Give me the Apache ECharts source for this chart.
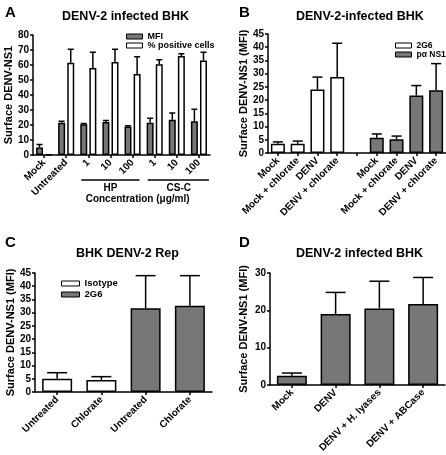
<!DOCTYPE html>
<html><head><meta charset="utf-8">
<script src="https://cdn.jsdelivr.net/npm/echarts@6/dist/echarts.min.js"></script>
<style>html,body{margin:0;padding:0;background:#fff}#c{width:446px;height:455px}</style>
</head><body><div id="c"></div>
<script>
const FONT = '"Liberation Sans", Arial, sans-serif';
const GRAY = '#777777';

// ---- Panel A ----
const catsA = ['Mock', 'Untreated', '1', '10', '100', '1', '10', '100'];
const mfiA = [5, 21.5, 20.5, 22, 19, 21.5, 23.5, 22.5];
const mfiSdA = [2, 1, 0.5, 1, 0.5, 3, 4.5, 8];
const posA = [0.5, 61.5, 58, 62, 54, 60.5, 66, 63];
const posSdA = [0, 9, 10.5, 8.5, 11.5, 3, 1.5, 5.5];
const ticksA = [0, 10, 20, 30, 40, 50, 60, 70, 80];

// ---- Panel B ----
const catsB = ['Mock', 'Mock + chlorate', 'DENV', 'DENV + chlorate', '', 'Mock', 'Mock + chlorate', 'DENV', 'DENV + chlorate'];
const b2G6 = [3.5, 3.5, 24, 28.7];
const b2G6Sd = [0.7, 1, 4.7, 12.8];
const bNS1 = [5.8, 5.2, 21.7, 23.7];
const bNS1Sd = [1.4, 1.2, 3.8, 10.1];
const ticksB = [0, 5, 10, 15, 20, 25, 30, 35, 40, 45];

// ---- Panel C ----
const catsC = ['Untreated', 'Chlorate', 'Untreated', 'Chlorate'];
const cIso = [5, 4.5];
const cIsoSd = [2.3, 1.3];
const c2G6 = [31.7, 32.6];
const c2G6Sd = [12.3, 11.4];
const ticksC = [0, 5, 10, 15, 20, 25, 30, 35, 40, 45];

// ---- Panel D ----
const catsD = ['Mock', 'DENV', 'DENV + H. lyases', 'DENV + ABCase'];
const dVal = [2.5, 19, 20.5, 21.7];
const dSd = [0.7, 5.8, 7.3, 7.1];
const ticksD = [0, 10, 20, 30];

const chart = echarts.init(document.getElementById('c'), null, {renderer: 'canvas'});

function yAx(gi, ticks, name, gap) {
  return {
    type: 'value', gridIndex: gi, min: ticks[0], max: ticks[ticks.length - 1],
    interval: ticks[1] - ticks[0],
    name: name, nameLocation: 'middle', nameGap: gap, nameRotate: 90,
    nameTextStyle: {fontFamily: FONT, fontWeight: 'bold', fontSize: 11, color: '#000'},
    axisLine: {show: true, lineStyle: {color: '#000', width: 1.5}},
    axisTick: {show: true, length: 3, lineStyle: {color: '#000', width: 1.5}},
    axisLabel: {fontFamily: FONT, fontWeight: 'bold', fontSize: 10, color: '#000', margin: 4},
    splitLine: {show: false}
  };
}
function xAx(gi, cats) {
  return {
    type: 'category', gridIndex: gi, data: cats,
    axisLine: {show: true, lineStyle: {color: '#000', width: 1.5}},
    axisTick: {show: true, alignWithLabel: true, length: 3, lineStyle: {color: '#000', width: 1.5}},
    axisLabel: {interval: 0, rotate: 45, fontFamily: FONT, fontWeight: 'bold', fontSize: 10, color: '#000', margin: 6}
  };
}
function errSeries(xi, vals, sds, idx, offset, cap) {
  const data = vals.map((v, i) => [idx[i], v, sds[i]]);
  return {
    type: 'custom', xAxisIndex: xi, yAxisIndex: xi, silent: true, z: 5,
    data: data, encode: {x: 0, y: 1},
    renderItem: function (params, api) {
      const x = api.value(0), v = api.value(1), e = api.value(2);
      if (!e) return null;
      const p0 = api.coord([x, v]);
      const p1 = api.coord([x, v + e]);
      const cx = p0[0] + offset;
      return {type: 'group', children: [
        {type: 'line', shape: {x1: cx, y1: p0[1], x2: cx, y2: p1[1]}, style: {stroke: '#000', lineWidth: 1.5}},
        {type: 'line', shape: {x1: cx - cap, y1: p1[1], x2: cx + cap, y2: p1[1]}, style: {stroke: '#000', lineWidth: 1.5}}
      ]};
    }
  };
}
function pad(vals, start, n) {
  const out = new Array(n).fill('-');
  vals.forEach((v, i) => out[start + i] = v);
  return out;
}
const barStyle = (c) => ({color: c, borderColor: '#000', borderWidth: 1.5});
function legendCfg(left, top, fs, lh, data, extra) {
  return Object.assign({
    orient: 'vertical', left: left, top: top, itemWidth: 16, itemHeight: 5, itemGap: 0, selectedMode: false,
    icon: 'rect',
    textStyle: {fontFamily: FONT, fontWeight: 'bold', fontSize: fs, lineHeight: lh, color: '#000'},
    itemStyle: {borderColor: '#000', borderWidth: 1},
    data: data
  }, extra || {});
}
const titleStyle = (s) => ({fontFamily: FONT, fontWeight: 'bold', fontSize: s, color: '#000'});

const idxA = catsA.map((_, i) => i);
const wA = 7, gA = 0.3;
const offA = (wA + wA * gA) / 2;

chart.setOption({
  animation: false,
  backgroundColor: '#fff',
  title: [
    {text: 'A', left: 0, top: 0, textStyle: titleStyle(15)},
    {text: 'DENV-2 infected BHK', left: 57, top: 5, textStyle: titleStyle(12.5)},
    {text: 'B', left: 234, top: 0, textStyle: titleStyle(15)},
    {text: 'DENV-2-infected BHK', left: 291, top: 5, textStyle: titleStyle(12.5)},
    {text: 'C', left: 0, top: 230, textStyle: titleStyle(15)},
    {text: 'BHK DENV-2 Rep', left: 71, top: 242, textStyle: titleStyle(12.5)},
    {text: 'D', left: 234, top: 230, textStyle: titleStyle(15)},
    {text: 'DENV-2 infected BHK', left: 291, top: 242, textStyle: titleStyle(12.5)}
  ],
  legend: [
    legendCfg(121, 27, 9, 9, ['MFI', '% positive cells']),
    legendCfg(390, 36, 8.5, 9, ['2G6', 'pα NS1']),
    legendCfg(56, 273, 9.5, 11, ['Isotype', 'C-2G6'], {itemWidth: 18, formatter: (n) => n.replace(/^C-/, '')})
  ],
  grid: [
    {left: 33, top: 35, width: 177, height: 120},
    {left: 268, top: 34, width: 178, height: 119},
    {left: 35, top: 273, width: 177, height: 119},
    {left: 270, top: 273, width: 175, height: 118}
  ],
  xAxis: [xAx(0, catsA), xAx(1, catsB), xAx(2, catsC), xAx(3, catsD)],
  yAxis: [
    yAx(0, ticksA, 'Surface DENV-NS1', 18),
    yAx(1, ticksB, 'Surface DENV-NS1 (MFI)', 18),
    yAx(2, ticksC, 'Surface DENV-NS1 (MFI)', 18),
    yAx(3, ticksD, 'Surface DENV-NS1 (MFI)', 21)
  ],
  series: [
    {name: 'MFI', type: 'bar', xAxisIndex: 0, yAxisIndex: 0, data: mfiA, barWidth: wA, barGap: '30%', itemStyle: barStyle(GRAY)},
    {name: '% positive cells', type: 'bar', xAxisIndex: 0, yAxisIndex: 0, data: posA, barWidth: wA, barGap: '30%', itemStyle: barStyle('#fff')},
    errSeries(0, mfiA, mfiSdA, idxA, -offA, 3),
    errSeries(0, posA, posSdA, idxA, offA, 3),

    {name: '2G6', type: 'bar', xAxisIndex: 1, yAxisIndex: 1, data: pad(b2G6, 0, 9), barWidth: 14, barGap: '-100%', itemStyle: barStyle('#fff')},
    {name: 'pα NS1', type: 'bar', xAxisIndex: 1, yAxisIndex: 1, data: pad(bNS1, 5, 9), barWidth: 14, barGap: '-100%', itemStyle: barStyle(GRAY)},
    errSeries(1, b2G6, b2G6Sd, [0, 1, 2, 3], 0, 5),
    errSeries(1, bNS1, bNS1Sd, [5, 6, 7, 8], 0, 5),

    {name: 'Isotype', type: 'bar', xAxisIndex: 2, yAxisIndex: 2, data: pad(cIso, 0, 4), barWidth: 30, barGap: '-100%', itemStyle: barStyle('#fff')},
    {name: 'C-2G6', type: 'bar', xAxisIndex: 2, yAxisIndex: 2, data: pad(c2G6, 2, 4), barWidth: 30, barGap: '-100%', itemStyle: barStyle(GRAY)},
    errSeries(2, cIso, cIsoSd, [0, 1], 0, 10),
    errSeries(2, c2G6, c2G6Sd, [2, 3], 0, 10),

    {name: 'D', type: 'bar', xAxisIndex: 3, yAxisIndex: 3, data: dVal, barWidth: 30, itemStyle: barStyle(GRAY)},
    errSeries(3, dVal, dSd, [0, 1, 2, 3], 0, 10)
  ]
});

// Group brackets under panel A, positioned from the axis scale
function px(i) { return chart.convertToPixel({xAxisIndex: 0, yAxisIndex: 0}, [i, 0]); }
const hp0 = px(2), hp1 = px(4), cs0 = px(5), cs1 = px(7);
const yb = hp0[1] + 25;
const txt = (t, x, y) => ({type: 'text', x: x, y: y, style: {text: t, fontFamily: FONT, fontWeight: 'bold', fontSize: 10, fill: '#000', align: 'center', verticalAlign: 'middle'}});
chart.setOption({
  graphic: [
    {type: 'line', shape: {x1: hp0[0] - 7, y1: yb, x2: hp1[0] + 7, y2: yb}, style: {stroke: '#000', lineWidth: 1.5}},
    {type: 'line', shape: {x1: cs0[0] - 7, y1: yb, x2: cs1[0] + 10, y2: yb}, style: {stroke: '#000', lineWidth: 1.5}},
    txt('HP', (hp0[0] + hp1[0]) / 2, yb + 8),
    txt('CS-C', (cs0[0] + cs1[0]) / 2 + 2, yb + 8),
    txt('Concentration (μg/ml)', (hp0[0] + cs1[0]) / 2 - 6, yb + 19)
  ]
});
</script>
</body></html>
